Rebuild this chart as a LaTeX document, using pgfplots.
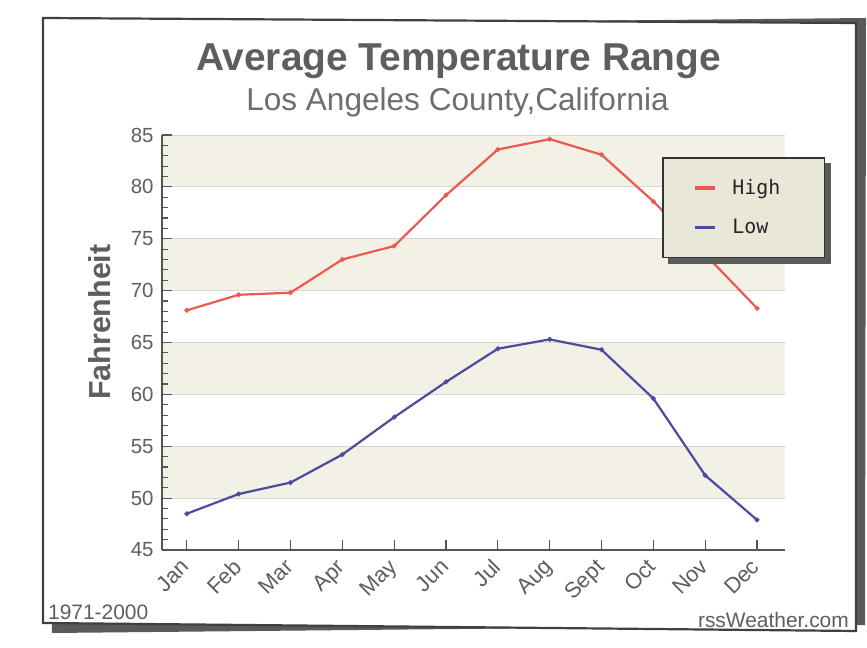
\documentclass[border=0pt]{standalone}
\usepackage{pgfplots}
\pgfplotsset{compat=1.18}
\usepackage{fontspec}
\setmainfont{Liberation Sans}
\newfontfamily\monofont{DejaVu Sans Mono}
\definecolor{band}{HTML}{F3F1E6}
\definecolor{gridc}{HTML}{D6D6D0}
\definecolor{axc}{HTML}{555555}
\definecolor{txt}{HTML}{5E5E5E}
\definecolor{hic}{HTML}{E85A52}
\definecolor{loc}{HTML}{4B4BA0}
\definecolor{legfill}{HTML}{E8E7D8}
\definecolor{shadowc}{HTML}{5A5A5A}
\begin{document}
\begin{tikzpicture}
\begin{axis}[
  set layers,
  clip=false,
  scale only axis,
  width=623bp, height=415bp,
  at={(162bp,98bp)}, anchor=south west,
  xmin=-0.48, xmax=11.54,
  ymin=45, ymax=85,
  axis x line*=bottom, axis y line*=left,
  axis line style={-, draw=axc, line width=1.6bp},
  xtick={0,...,11},
  xticklabels={Jan,Feb,Mar,Apr,May,Jun,Jul,Aug,Sept,Oct,Nov,Dec},
  ytick={45,50,...,85},
  minor y tick num=4,
  tick align=inside,
  major tick length=10bp,
  minor tick length=6bp,
  tick style={draw=axc, line width=1.2bp},
  /pgf/number format/assume math mode=true,
  ticklabel style={text=txt},
  yticklabel style={font=\fontsize{20.5}{21}\selectfont, xshift=-5bp},
  xticklabel style={font=\fontsize{22}{22}\selectfont, xshift=-7bp, yshift=-6bp, rotate=45, anchor=north east, inner sep=1bp},
  ymajorgrids,
  grid style={draw=gridc, line width=0.8bp},
  ylabel={Fahrenheit},
  ylabel style={at={(axis description cs:-0.0995,0.549)}, anchor=center, text=txt, font=\bfseries\fontsize{30.5}{32}\selectfont},
  legend style={name=leg, at={(0.8026,0.947)}, anchor=north west, draw=black!80, line width=1.6bp, fill=legfill,
    font=\monofont\fontsize{20}{22}\selectfont, text=black!85,
    inner xsep=30bp, inner ysep=22bp, row sep=23bp,
    nodes={inner sep=0pt, text width=62bp},
    /tikz/every odd column/.append style={column sep=16bp}},
  legend cell align=left,
  legend image code/.code={\draw[#1, line width=3.5bp] (-1bp,0bp) -- (19bp,0bp);},
]
\begin{pgfonlayer}{axis background}
\fill[white] (rel axis cs:-0.26003,-0.23614) rectangle (rel axis cs:1.13162,1.32530);
\fill[shadowc] (rel axis cs:-0.17657,-0.2) -- (rel axis cs:1.12841,-0.18072) -- (rel axis cs:1.13002,1.28193) -- (rel axis cs:-0.17657,1.26265) -- cycle;
\filldraw[fill=white, draw=black!75, line width=2.2bp] (rel axis cs:-0.19101,1.28193) -- (rel axis cs:1.11396,1.26988) -- (rel axis cs:1.11396,-0.19518) -- (rel axis cs:-0.19101,-0.17590) -- cycle;
\fill[band] (axis cs:-0.48,80) rectangle (axis cs:11.54,85);
\fill[band] (axis cs:-0.48,70) rectangle (axis cs:11.54,75);
\fill[band] (axis cs:-0.48,60) rectangle (axis cs:11.54,65);
\fill[band] (axis cs:-0.48,50) rectangle (axis cs:11.54,55);
\end{pgfonlayer}
\pgfplotsinvokeforeach{46,47,48,49,51,52,53,54,56,57,58,59,61,62,63,64,66,67,68,69,71,72,73,74,76,77,78,79,81,82,83,84}{
  \draw[axc, line width=1.1bp] (axis cs:-0.48,#1) -- ++(6bp,0bp);
}
\addplot[hic, line width=2.2bp, mark=*, mark size=1.2bp] coordinates {
 (0,68.1) (1,69.6) (2,69.8) (3,73.0) (4,74.3) (5,79.2) (6,83.6) (7,84.6) (8,83.1) (9,78.6) (10,73.5) (11,68.3)};
\addlegendentry{High}
\addplot[loc, line width=2.2bp, mark=*, mark size=1.2bp] coordinates {
 (0,48.5) (1,50.4) (2,51.5) (3,54.2) (4,57.8) (5,61.2) (6,64.4) (7,65.3) (8,64.3) (9,59.6) (10,52.2) (11,47.9)};
\addlegendentry{Low}
\end{axis}
\fill[shadowc] ([xshift=6bp,yshift=-6bp]leg.south west) rectangle ([xshift=6bp,yshift=-6bp]leg.north east);
\begin{scope}[x=1bp,y=1bp]
\node[anchor=base, text=txt, font=\bfseries\fontsize{39}{42}\selectfont] at (458.5,577) {Average Temperature Range};
\node[anchor=base, text=txt!90, font=\fontsize{31.7}{34}\selectfont] at (457.5,537) {Los Angeles County,California};
\node[anchor=base west, text=txt, font=\fontsize{21}{23}\selectfont, inner sep=0] at (48,29) {1971-2000};
\node[anchor=base east, text=txt, font=\fontsize{21}{23}\selectfont, inner sep=0] at (849,21) {rssWeather.com};
\end{scope}
\pgfresetboundingbox
\path[use as bounding box] (0,0) rectangle (867bp,648bp);
\end{tikzpicture}
\end{document}
